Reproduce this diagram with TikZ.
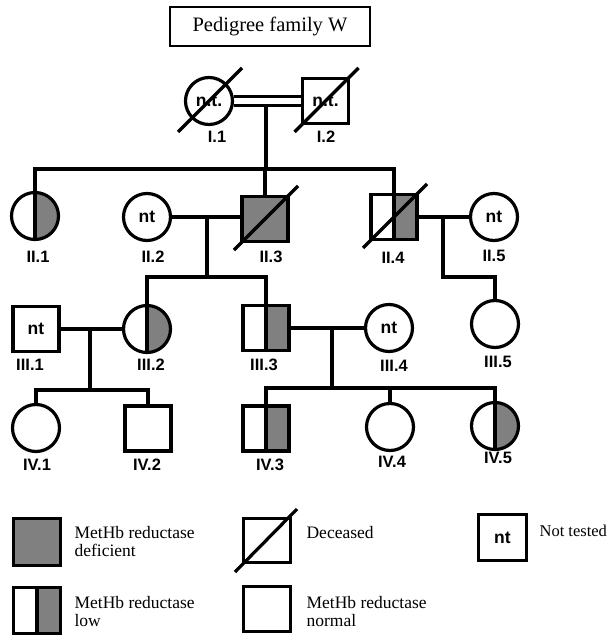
\documentclass[tikz,border=0pt]{standalone}
\usepackage{fontspec}
\setmainfont{Liberation Serif}
\newfontfamily\labfont{Liberation Sans}
\definecolor{mygray}{RGB}{128,128,128}
\begin{document}
\begin{tikzpicture}[x=1pt,y=-1pt,line width=3.2pt,
  person/.style={draw,line width=3.2pt,inner sep=0pt,fill=white},
  fem/.style={person,circle,minimum size=47pt},
  mal/.style={person,rectangle,minimum width=46pt,minimum height=45pt},
  full/.style={fill=mygray},
  half/.style={path picture={
     \fill[mygray] (path picture bounding box.north) rectangle (path picture bounding box.south east);
     \draw[line width=3.2pt] (path picture bounding box.north) -- (path picture bounding box.south);}},
  lab/.style={font=\labfont\bfseries\fontsize{16.5}{17}\selectfont,inner sep=0pt},
  ntf/.style={font=\labfont\bfseries\fontsize{17.5}{18}\selectfont},
  legtxt/.style={anchor=west,align=left,inner sep=0pt,font=\fontsize{17.5}{18}\selectfont},
  slash/.style={line width=3.2pt}]
\useasboundingbox (0,0) rectangle (610,637);

% title
\node[draw,line width=1.4pt,minimum width=200pt,minimum height=39pt,inner sep=0pt,
      font=\fontsize{20.5}{22}\selectfont] (title) at (270,26.5) {Pedigree family W};

% generation I
\node[fem,ntf] (i1) at (209,101) {n.t.};
\node[mal,ntf] (i2) at (325.5,101) {n.t.};
% generation II
\node[fem,half] (ii1) at (35,216) {};
\node[fem,ntf] (ii2) at (147,217) {nt};
\node[mal,full] (ii3) at (265,219) {};
\node[mal,half] (ii4) at (394,217) {};
\node[fem,ntf] (ii5) at (494,217) {nt};
% generation III
\node[mal,ntf] (iii1) at (36,329) {nt};
\node[fem,half] (iii2) at (147,329) {};
\node[mal,half] (iii3) at (266,328) {};
\node[fem,ntf] (iii4) at (389,328) {nt};
\node[fem] (iii5) at (495,324) {};
% generation IV
\node[fem] (iv1) at (36,428) {};
\node[mal] (iv2) at (148,428.5) {};
\node[mal,half] (iv3) at (266,428.5) {};
\node[fem] (iv4) at (390,427) {};
\node[fem,half] (iv5) at (495,426) {};

% labels
\node[lab] (li1) at (217,137) {I.1};
\node[lab] (li2) at (326,137) {I.2};
\node[lab] (lii1) at (38,257) {II.1};
\node[lab] (lii2) at (153,257) {II.2};
\node[lab] (lii3) at (271,257) {II.3};
\node[lab] (lii4) at (393,258) {II.4};
\node[lab] (lii5) at (494,256) {II.5};
\node[lab] (liii1) at (30,365) {III.1};
\node[lab] (liii2) at (151,365) {III.2};
\node[lab] (liii3) at (264,365) {III.3};
\node[lab] (liii4) at (394,366) {III.4};
\node[lab] (liii5) at (498,362) {III.5};
\node[lab] (liv1) at (37,465) {IV.1};
\node[lab] (liv2) at (147,465) {IV.2};
\node[lab] (liv3) at (270,465) {IV.3};
\node[lab] (liv4) at (392,462) {IV.4};
\node[lab] (liv5) at (498,458) {IV.5};

% marriage I (double line)
\draw ([yshift=4.5pt]i1.east) -- ([yshift=4.5pt]i1.east -| i2.west);
\draw ([yshift=-4.5pt]i1.east) -- ([yshift=-4.5pt]i1.east -| i2.west);
\coordinate (m1) at (266,105.5);
\coordinate (s2) at (0,169);
\draw (m1) -- (m1 |- s2);
\draw (ii1.north) |- (ii4.north |- s2) -- (ii4.north);
\draw (ii3.north) -- (ii3.north |- s2);

% marriage II.2 - II.3
\draw (ii2.east) -- (ii2.east -| ii3.west);
\coordinate (m2) at (207,217);
\coordinate (s3) at (0,277);
\draw (m2) -- (m2 |- s3);
\draw (iii2.north) |- (iii3.north |- s3) -- (iii3.north);

% marriage II.4 - II.5
\draw (ii4.east) -- (ii5.west);
\coordinate (m3) at (443,217);
\draw (m3) |- (iii5.north |- s3) -- (iii5.north);

% marriage III.1 - III.2
\draw (iii1.east) -- (iii2.west);
\coordinate (m4) at (90,329);
\coordinate (s4) at (0,390);
\draw (m4) -- (m4 |- s4);
\draw (iv1.north) |- (iv2.north |- s4) -- (iv2.north);

% marriage III.3 - III.4
\draw (iii3.east) -- (iii4.west);
\coordinate (m5) at (332,328);
\coordinate (s5) at (0,388);
\draw (m5) -- (m5 |- s5);
\draw (iv3.north) |- (iv5.north |- s5) -- (iv5.north);
\draw (iv4.north) -- (iv4.north |- s5);

% deceased slashes
\foreach \n in {i1,i2,ii3,ii4}
  \draw[slash] ([shift={(-31,31)}]\n.center) -- ([shift={(33,-33)}]\n.center);

% legend
\node[mal,full,line width=3.6pt,minimum width=47pt,minimum height=47pt] (l1) at (37,542) {};
\node[legtxt] (t1) at (73,542) {MetHb reductase\\deficient};
\node[mal,half,line width=3.6pt,minimum width=47pt,minimum height=46pt] (l2) at (37,610.5) {};
\node[legtxt] (t2) at (73,612) {MetHb reductase\\low};
\node[mal,line width=3.6pt,minimum width=47pt,minimum height=44pt] (l3) at (267,540.5) {};
\draw[slash] ([shift={(-32,31.5)}]l3.center) -- ([shift={(30,-31.5)}]l3.center);
\node[legtxt] (t3) at (305,533) {Deceased};
\node[mal,line width=3.6pt,minimum width=47pt,minimum height=45pt] (l4) at (267,609) {};
\node[legtxt] (t4) at (305,612) {MetHb reductase\\normal};
\node[mal,ntf,line width=3.6pt,minimum width=48pt,minimum height=46pt] (l5) at (502.5,537.5) {nt};
\node[legtxt,font=\fontsize{16.5}{18}\selectfont] (t5) at (538,531) {Not tested};
\end{tikzpicture}
\end{document}
